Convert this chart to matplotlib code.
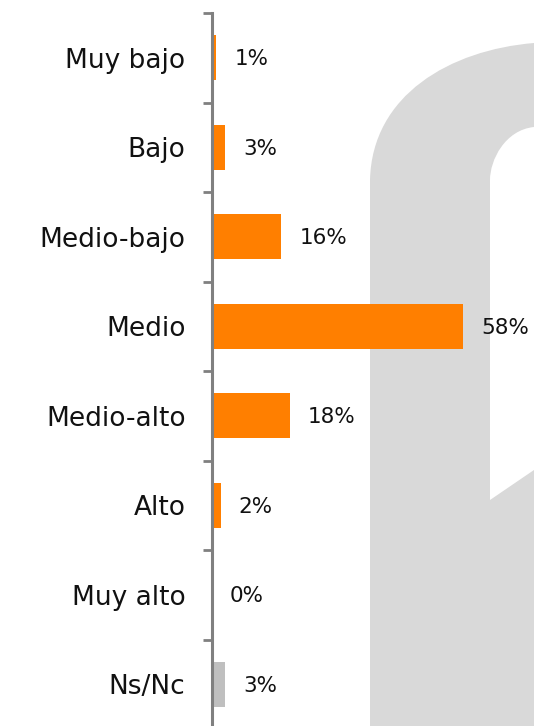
import matplotlib
matplotlib.use("Agg")
import matplotlib.pyplot as plt
from matplotlib.path import Path
from matplotlib.patches import PathPatch

categories = ["Muy bajo", "Bajo", "Medio-bajo", "Medio", "Medio-alto", "Alto", "Muy alto", "Ns/Nc"]
values = [1, 3, 16, 58, 18, 2, 0, 3]
bar_colors = ["#FF7F00"] * 7 + ["#BFBFBF"]
value_labels = ["1%", "3%", "16%", "58%", "18%", "2%", "0%", "3%"]

W, H = 534, 726
fig = plt.figure(figsize=(W / 100, H / 100), dpi=100)

# watermark background shape (pixel coordinates, y from top)
def px(x, y):
    return (x / W, 1 - y / H)

verts = [
    px(370, 726), px(370, 180),
    px(372, 95), px(450, 50), px(534, 43),
    px(534, 127),
    px(505, 130), px(490, 160), px(490, 180),
    px(490, 500),
    px(534, 470),
    px(534, 726),
    px(370, 726),
]
codes = [Path.MOVETO, Path.LINETO,
         Path.CURVE4, Path.CURVE4, Path.CURVE4,
         Path.LINETO,
         Path.CURVE4, Path.CURVE4, Path.CURVE4,
         Path.LINETO, Path.LINETO, Path.LINETO, Path.CLOSEPOLY]
bg = fig.add_axes([0, 0, 1, 1])
bg.set_xlim(0, 1)
bg.set_ylim(0, 1)
bg.axis("off")
bg.add_patch(PathPatch(Path(verts, codes), facecolor="#D9D9D9", edgecolor="none"))

ax_left, ax_right = 212, 534
ax_top, ax_bot = 13, 729
ax = fig.add_axes([ax_left / W, 1 - ax_bot / H, (ax_right - ax_left) / W, (ax_bot - ax_top) / H])
ax.patch.set_alpha(0)

y = list(range(len(categories)))
ax.barh(y, values, height=0.5, color=bar_colors)
ax.set_ylim(len(categories) - 0.5, -0.5)
ax.set_xlim(0, (ax_right - ax_left) / 4.33)

font = "DejaVu Sans"
for yi, v, lab in zip(y, values, value_labels):
    ax.annotate(lab, (v, yi), xytext=(13, -1), textcoords="offset points",
                va="center", ha="left", fontsize=15.5, color="#111111", family=font)

ax.set_yticks([i - 0.5 for i in range(len(categories) + 1)])
ax.set_yticklabels([])
ax.set_yticks(y, minor=True)
ax.set_yticklabels(categories, minor=True, fontsize=19, family=font, color="#111111")
ax.tick_params(axis="y", which="major", length=6.5, width=2, color="#808080", direction="out")
ax.tick_params(axis="y", which="minor", length=0, pad=19)
ax.set_xticks([])
for s in ["top", "right", "bottom"]:
    ax.spines[s].set_visible(False)
ax.spines["left"].set_color("#808080")
ax.spines["left"].set_linewidth(2.2)

fig.savefig("out.png", dpi=100)
